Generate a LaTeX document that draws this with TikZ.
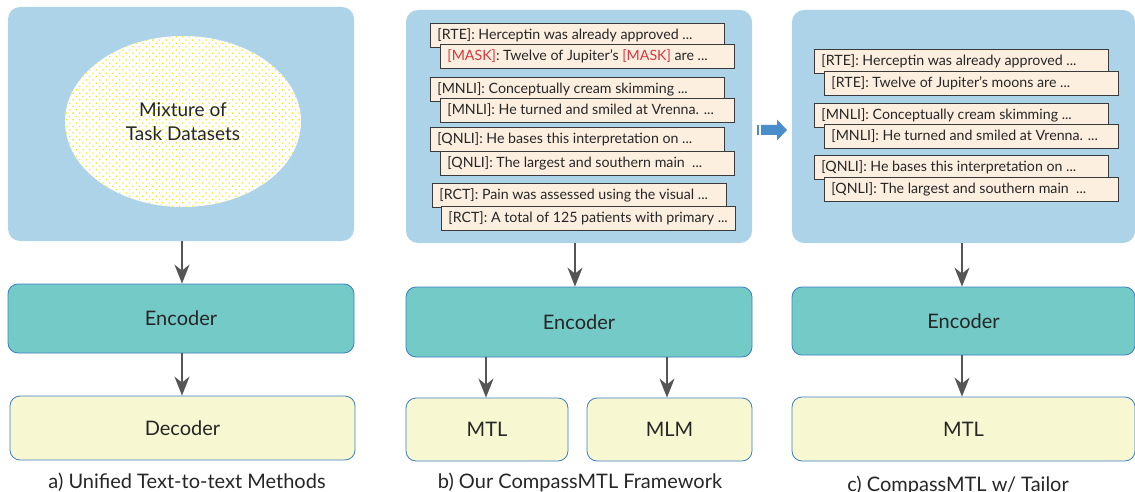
\documentclass[tikz,border=0pt]{standalone}
\usepackage{fontspec}
\setmainfont{Lato}
\usetikzlibrary{arrows.meta,shapes.geometric,patterns.meta}
\definecolor{panelblue}{HTML}{ADD3E8}
\definecolor{teal}{HTML}{74CAC7}
\definecolor{edgeblue}{HTML}{3B7FC4}
\definecolor{decfill}{HTML}{F7F7D2}
\definecolor{peach}{HTML}{FDEFE0}
\definecolor{boxedge}{HTML}{3A3A3A}
\definecolor{maskred}{HTML}{D9363E}
\definecolor{arrowgray}{HTML}{555555}
\definecolor{txt}{HTML}{262626}
\definecolor{dotyellow}{HTML}{FFE400}
\definecolor{bluearrow}{HTML}{4A8DCB}
\newcommand{\tline}[1]{\makebox[280pt][l]{#1}}
\tikzset{
  panel/.style={fill=panelblue, draw=none, rounded corners=12pt},
  encbox/.style={fill=teal, draw=edgeblue, line width=0.8pt, rounded corners=10pt, text=txt, font=\fontsize{20}{24}\selectfont},
  decbox/.style={fill=decfill, draw=edgeblue, line width=0.8pt, rounded corners=10pt, text=txt, font=\fontsize{20}{24}\selectfont},
  tbox/.style={fill=peach, draw=boxedge, line width=0.9pt, anchor=west, minimum height=24pt, inner xsep=7pt, inner ysep=0pt, text=txt, font=\fontsize{14.2}{16}\selectfont},
  conn/.style={draw=arrowgray, line width=1.8pt, -{Stealth[length=19pt,width=15pt,inset=6pt]}},
  caption/.style={anchor=base, text=txt, font=\fontsize{20}{24}\selectfont},
}
\begin{document}
\begin{tikzpicture}[x=1pt,y=-1pt]
\useasboundingbox (0,0) rectangle (1135,492);
% ---------- panel a
\node[panel, minimum width=346pt, minimum height=234pt] (pa) at (181,124) {};
\node[ellipse, minimum width=236pt, minimum height=171pt, preaction={fill=white},
      pattern={Dots[distance=4.7pt, angle=45, radius=0.9pt]}, pattern color=dotyellow,
      align=center, text=txt, font=\fontsize{19}{24}\selectfont] (mix) at (183,121.5) {Mixture of\\Task Datasets};
\node[encbox, minimum width=346pt, minimum height=69pt] (enca) at (181,318.5) {Encoder};
\node[decbox, minimum width=345pt, minimum height=64pt] (deca) at (182.5,428) {Decoder};
\draw[conn] (pa.south -| 182,0) -- (enca.north -| 182,0);
\draw[conn] (enca.south -| 182,0) -- (deca.north -| 182,0);
\node[caption] (capa) at (187,488) {a) Unified Text-to-text Methods};
% ---------- panel b
\node[panel, minimum width=346pt, minimum height=233pt] (pb) at (579,126.5) {};
\node[tbox] (b1) at (430,35) {\tline{[RTE]: Herceptin was already approved ...}};
\node[tbox] (b1f) at (440,56.5) {\tline{\textcolor{maskred}{[MASK]}: Twelve of Jupiter's \textcolor{maskred}{[MASK]} are ...}};
\node[tbox] (b2) at (430,89) {\tline{[MNLI]: Conceptually cream skimming ...}};
\node[tbox] (b2f) at (440,110) {\tline{[MNLI]: He turned and smiled at Vrenna. ...}};
\node[tbox] (b3) at (430,139) {\tline{[QNLI]: He bases this interpretation on ...}};
\node[tbox] (b3f) at (440,163) {\tline{[QNLI]: The largest and southern main\ \ ...}};
\node[tbox] (b4) at (432,195) {\tline{[RCT]: Pain was assessed using the visual ...}};
\node[tbox] (b4f) at (441,218.5) {\tline{[RCT]: A total of 125 patients with primary ...}};
\node[encbox, minimum width=346pt, minimum height=70pt] (encb) at (579,322) {Encoder};
\node[decbox, minimum width=162pt, minimum height=63pt] (mtlb) at (487,429.5) {MTL};
\node[decbox, minimum width=165pt, minimum height=63pt] (mlm) at (669.5,429.5) {MLM};
\draw[conn] (pb.south -| 575,0) -- (encb.north -| 575,0);
\draw[conn] (encb.south -| 486,0) -- (mtlb.north -| 486,0);
\draw[conn] (encb.south -| 667,0) -- (mlm.north -| 667,0);
\node[caption] (capb) at (580,488) {b) Our CompassMTL Framework};
% ---------- transition arrow
\fill[bluearrow] (757,125) rectangle (759,135);
\fill[bluearrow] (761,125) -- (777,125) -- (777,119.5) -- (787,130) -- (777,140.5) -- (777,135) -- (761,135) -- cycle;
% ---------- panel c
\node[panel, minimum width=343pt, minimum height=233pt] (pc) at (963.5,126.5) {};
\node[tbox] (c1) at (814,61) {\tline{[RTE]: Herceptin was already approved ...}};
\node[tbox] (c1f) at (824,83) {\tline{[RTE]: Twelve of Jupiter's moons are ...}};
\node[tbox] (c2) at (814,115) {\tline{[MNLI]: Conceptually cream skimming ...}};
\node[tbox] (c2f) at (824,136) {\tline{[MNLI]: He turned and smiled at Vrenna. ...}};
\node[tbox] (c3) at (814,167) {\tline{[QNLI]: He bases this interpretation on ...}};
\node[tbox] (c3f) at (824,189) {\tline{[QNLI]: The largest and southern main\ \ ...}};
\node[encbox, minimum width=343pt, minimum height=68pt] (encc) at (963.5,321) {Encoder};
\node[decbox, minimum width=343pt, minimum height=64pt] (mtlc) at (963.5,429) {MTL};
\draw[conn] (pc.south -| 962,0) -- (encc.north -| 962,0);
\draw[conn] (encc.south -| 962,0) -- (mtlc.north -| 962,0);
\node[caption] (capc) at (958,491) {c) CompassMTL w/ Tailor};
\end{tikzpicture}
\end{document}
